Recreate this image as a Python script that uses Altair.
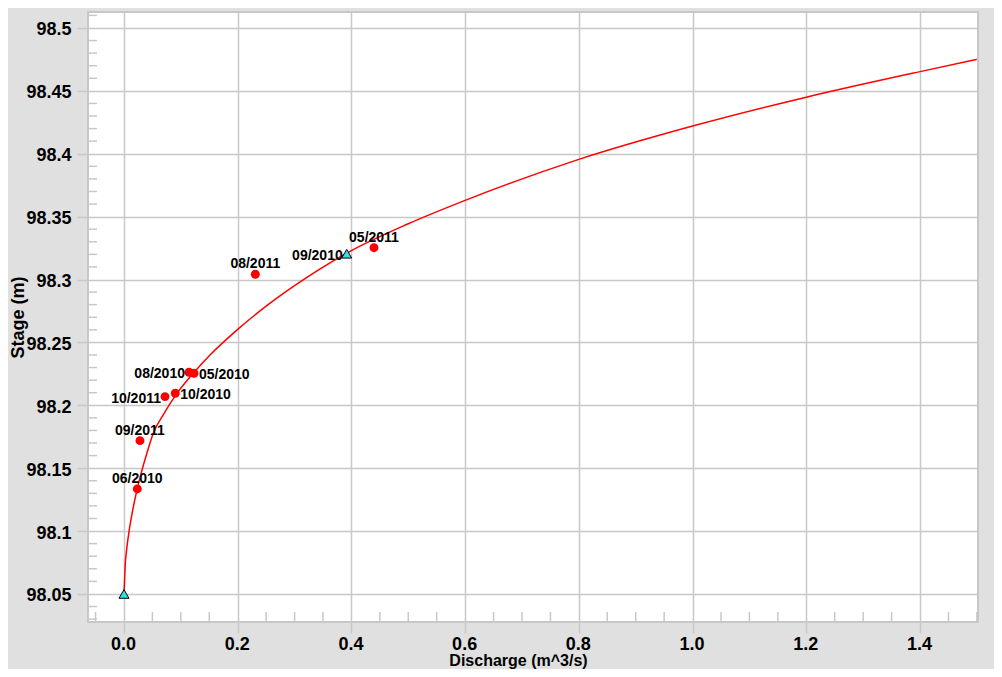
import altair as alt
import pandas as pd

# ---- data ----
point_labels = ["05/2010", "06/2010", "08/2010", "10/2010", "05/2011", "08/2011", "09/2011", "10/2011"]
point_q = [0.1231, 0.0234, 0.1143, 0.0902, 0.4397, 0.2310, 0.0281, 0.0721]
point_h = [98.2255, 98.1335, 98.2263, 98.2096, 98.3253, 98.3042, 98.1719, 98.2069]

tri_labels = ["", "09/2010"]
tri_q = [0.0, 0.3917]
tri_h = [98.05, 98.3205]

curve_q = [0.0, 0.002, 0.005, 0.0093, 0.015, 0.02, 0.03, 0.04, 0.0515, 0.07, 0.09, 0.1219,
           0.15, 0.2, 0.25, 0.3, 0.4, 0.5, 0.6, 0.8, 1.0, 1.2, 1.4, 1.5]
curve_h = [98.05, 98.072, 98.0866, 98.101, 98.1159, 98.127, 98.1457, 98.1615, 98.1778, 98.1931,
           98.2075, 98.2255, 98.2394, 98.2604, 98.2788, 98.2951, 98.323, 98.3443, 98.3629,
           98.3955, 98.422, 98.445, 98.4653, 98.475]

x_major = [0.0, 0.2, 0.4, 0.6, 0.8, 1.0, 1.2, 1.4]
x_minor = [-0.05, 0.05, 0.1, 0.15, 0.25, 0.3, 0.35, 0.45, 0.5, 0.55, 0.65, 0.7, 0.75,
           0.85, 0.9, 0.95, 1.05, 1.1, 1.15, 1.25, 1.3, 1.35, 1.45, 1.5]
y_major = [98.05, 98.1, 98.15, 98.2, 98.25, 98.3, 98.35, 98.4, 98.45, 98.5]
y_minor = [98.03, 98.04, 98.06, 98.07, 98.08, 98.09, 98.11, 98.12, 98.13, 98.14,
           98.16, 98.17, 98.18, 98.19, 98.21, 98.22, 98.23, 98.24, 98.26, 98.27,
           98.28, 98.29, 98.31, 98.32, 98.33, 98.34, 98.36, 98.37, 98.38, 98.39,
           98.41, 98.42, 98.43, 98.44, 98.46, 98.47, 98.48, 98.49, 98.51]

labels_above = ["06/2010", "09/2011", "08/2011", "05/2011"]
labels_left = ["10/2011", "08/2010", "09/2010"]
labels_right = ["10/2010", "05/2010"]

# ---- tables ----
points = pd.DataFrame({"label": point_labels, "q": point_q, "h": point_h})
tris = pd.DataFrame({"label": tri_labels, "q": tri_q, "h": tri_h})
curve = pd.DataFrame({"q": curve_q, "h": curve_h, "i": list(range(len(curve_q)))})
labels_df = pd.concat([points, tris[tris["label"] != ""]], ignore_index=True)
xminor_df = pd.DataFrame({"q": x_minor})
yminor_df = pd.DataFrame({"h": y_minor})

FONT = "Liberation Sans"
GRID = "#c8c8c8"
W, H = 890, 610

xscale = alt.Scale(domain=[-0.0633, 1.502], nice=False, zero=False)
yscale = alt.Scale(domain=[98.0277, 98.5127], nice=False, zero=False)

xaxis = alt.Axis(
    values=x_major, format=".1f", title="Discharge (m^3/s)",
    labelFont=FONT, labelFontSize=18, labelFontWeight="bold", labelColor="black",
    labelPadding=2, labelOffset=-1,
    tickSize=11, tickColor=GRID, tickWidth=1.5,
    domain=False, grid=True, gridColor=GRID, gridWidth=1.5,
    titleFont=FONT, titleFontSize=16, titleFontWeight="bold", titleColor="black",
    titleX=430, titleY=43.5, titleBaseline="alphabetic", titleAlign="center",
)
yaxis = alt.Axis(
    values=y_major, format=".2~f", title="Stage (m)",
    labelFont=FONT, labelFontSize=18, labelFontWeight="bold", labelColor="black",
    labelPadding=6, labelOffset=2,
    tickSize=11, tickColor=GRID, tickWidth=1.5,
    domain=False, grid=True, gridColor=GRID, gridWidth=1.5,
    titleFont=FONT, titleFontSize=18, titleFontWeight="bold", titleColor="black",
    titleX=-65, titleY=305, titleAngle=270, titleBaseline="alphabetic", titleAlign="center",
)

X = alt.X("q:Q", scale=xscale, axis=xaxis)
Y = alt.Y("h:Q", scale=yscale, axis=yaxis)

line = alt.Chart(curve).mark_line(color="#ff0000", strokeWidth=1.5, interpolate="monotone").encode(
    x=X, y=Y, order="i:Q"
)

xminor = alt.Chart(xminor_df).mark_rule(color=GRID, strokeWidth=1.5).encode(
    x=alt.X("q:Q", scale=xscale), y=alt.value(H - 10), y2=alt.value(H)
)
yminor = alt.Chart(yminor_df).mark_rule(color=GRID, strokeWidth=1.5).encode(
    y=alt.Y("h:Q", scale=yscale), x=alt.value(0), x2=alt.value(9)
)

dots = alt.Chart(points).mark_point(shape="circle", filled=True, color="#ff0000", size=80, opacity=1).encode(
    x=X, y=Y
)
triangles = alt.Chart(tris).mark_point(shape="triangle-up", filled=True, fill="#33e0e0",
                                       stroke="black", strokeWidth=1, size=100, opacity=1).encode(
    x=X, y=Y
)

text_style = dict(font=FONT, fontSize=14, fontWeight="bold", color="black")
t_above = alt.Chart(labels_df).mark_text(align="center", baseline="alphabetic", dy=-6, **text_style).encode(
    x=X, y=Y, text="label:N"
).transform_filter(alt.FieldOneOfPredicate(field="label", oneOf=labels_above))
t_left = alt.Chart(labels_df).mark_text(align="right", baseline="middle", dx=-4, dy=2, **text_style).encode(
    x=X, y=Y, text="label:N"
).transform_filter(alt.FieldOneOfPredicate(field="label", oneOf=labels_left))
t_right = alt.Chart(labels_df).mark_text(align="left", baseline="middle", dx=5, dy=2, **text_style).encode(
    x=X, y=Y, text="label:N"
).transform_filter(alt.FieldOneOfPredicate(field="label", oneOf=labels_right))

chart = alt.layer(line, xminor, yminor, dots, triangles, t_above, t_left, t_right).properties(
    width=W, height=H,
    autosize=alt.AutoSizeParams(type="none"),
    padding={"left": 80, "top": 4, "right": 16, "bottom": 47},
    background="#e0e0e0",
).configure_view(
    fill="white", stroke=GRID, strokeWidth=2
)

chart.save("out.html", embed_options={"renderer": "svg", "actions": False})
